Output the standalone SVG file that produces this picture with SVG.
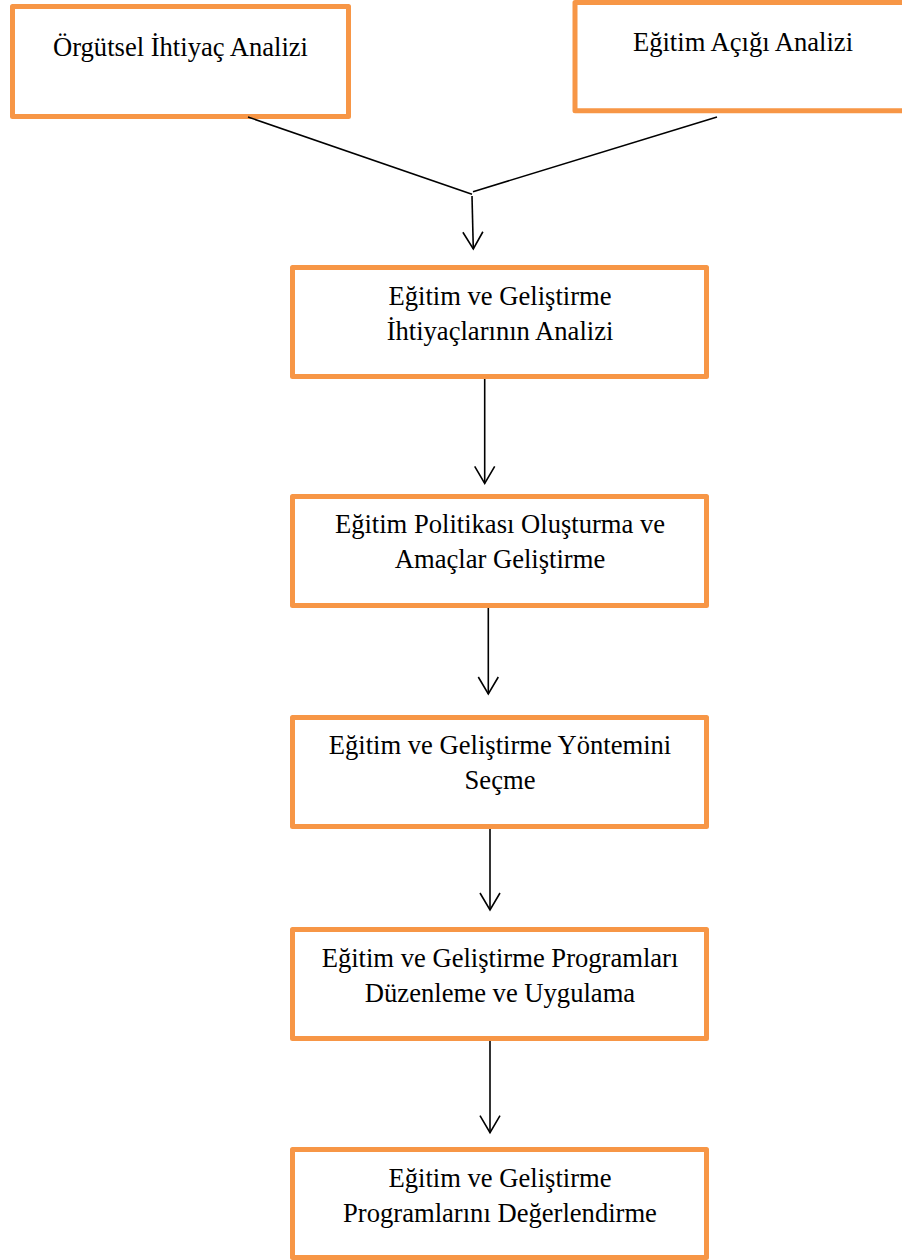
<svg xmlns="http://www.w3.org/2000/svg" width="902" height="1260" viewBox="0 0 902 1260">
  <style>
    .box { fill: #ffffff; stroke: #F79646; stroke-width: 5; stroke-linejoin: round; }
    .lbl { font-family: "Liberation Serif", "Times New Roman", serif; font-size: 26.6px; fill: #000000; text-anchor: middle; }
    .conn { fill: none; stroke: #000000; stroke-width: 1.6; }
  </style>
  <defs>
    <marker id="vhead" markerUnits="userSpaceOnUse" markerWidth="30" markerHeight="30" refX="0" refY="0" orient="auto" overflow="visible">
      <path d="M -17 -10 L 0 0 L -17 10" fill="none" stroke="#000000" stroke-width="1.6" stroke-linejoin="miter"/>
    </marker>
  </defs>
  <rect width="902" height="1260" fill="#ffffff"/>

  <g id="node-orgutsel">
    <rect class="box" x="12.5" y="6.5" width="336" height="110"/>
    <text class="lbl" x="180.5" y="56">Örgütsel İhtiyaç Analizi</text>
  </g>

  <g id="node-egitim-acigi">
    <rect class="box" x="575" y="2.5" width="340" height="108.3"/>
    <text class="lbl" x="743" y="51">Eğitim Açığı Analizi</text>
  </g>

  <g id="node-ihtiyac-analizi">
    <rect class="box" x="292.5" y="267.5" width="414" height="109"/>
    <text class="lbl" x="500" y="305">Eğitim ve Geliştirme</text>
    <text class="lbl" x="500" y="340">İhtiyaçlarının Analizi</text>
  </g>

  <g id="node-politika">
    <rect class="box" x="292.5" y="496.5" width="414" height="109"/>
    <text class="lbl" x="500" y="533">Eğitim Politikası Oluşturma ve</text>
    <text class="lbl" x="500" y="568">Amaçlar Geliştirme</text>
  </g>

  <g id="node-yontem">
    <rect class="box" x="292.5" y="717.5" width="414" height="109"/>
    <text class="lbl" x="500" y="754">Eğitim ve Geliştirme Yöntemini</text>
    <text class="lbl" x="500" y="789">Seçme</text>
  </g>

  <g id="node-program">
    <rect class="box" x="292.5" y="929.5" width="414" height="109"/>
    <text class="lbl" x="500" y="966.5">Eğitim ve Geliştirme Programları</text>
    <text class="lbl" x="500" y="1001.5">Düzenleme ve Uygulama</text>
  </g>

  <g id="node-degerlendirme">
    <rect class="box" x="292.5" y="1149.5" width="414" height="108"/>
    <text class="lbl" x="500" y="1187">Eğitim ve Geliştirme</text>
    <text class="lbl" x="500" y="1222">Programlarını Değerlendirme</text>
  </g>

  <g id="connectors">
    <line class="conn" x1="248" y1="117" x2="472" y2="194.3"/>
    <line class="conn" x1="717" y1="117" x2="473" y2="191.7"/>
    <line class="conn" x1="472" y1="196" x2="473.3" y2="249" marker-end="url(#vhead)"/>
    <line class="conn" x1="484.7" y1="379" x2="484.7" y2="483.3" marker-end="url(#vhead)"/>
    <line class="conn" x1="488.3" y1="608" x2="488.3" y2="694" marker-end="url(#vhead)"/>
    <line class="conn" x1="490" y1="829" x2="490" y2="910" marker-end="url(#vhead)"/>
    <line class="conn" x1="490" y1="1041" x2="490" y2="1132.7" marker-end="url(#vhead)"/>
  </g>
</svg>
